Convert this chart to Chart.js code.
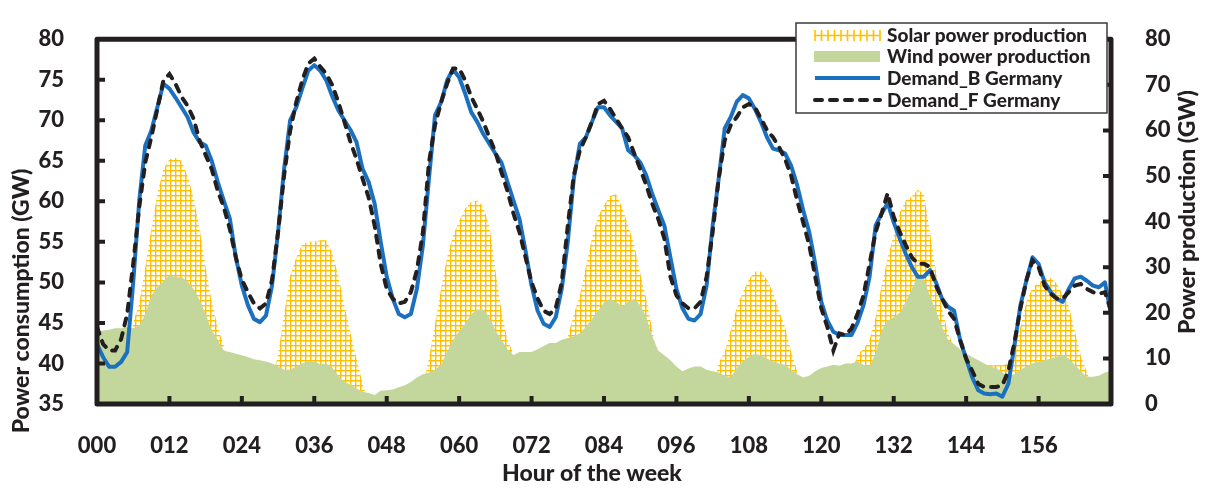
<!DOCTYPE html>
<html>
<head>
<meta charset="utf-8">
<title>Power consumption and production, Germany</title>
<script src="https://cdn.jsdelivr.net/npm/chart.js@4.4.1/dist/chart.umd.min.js"></script>
<style>
  html, body { margin: 0; padding: 0; background: #ffffff; }
  canvas { display: block; }
</style>
</head>
<body>
<canvas id="chart" width="1207" height="489"></canvas>
<script>
// ---- data -------------------------------------------------------------
// hour of the week, 0 .. 168
const hours = Array.from({ length: 169 }, (_, i) => i);

const hourTicks = ['000', '012', '024', '036', '048', '060', '072', '084', '096', '108', '120', '132', '144', '156'];
const consumptionTicks = [35, 40, 45, 50, 55, 60, 65, 70, 75, 80];
const productionTicks = [0, 10, 20, 30, 40, 50, 60, 70, 80];

// Solar power production (GW, right axis)
const solarGW = [
  0, 0, 0, 0, 0, 4, 18, 22, 30, 38.4, 46, 51.5, 53.7, 54, 53.3, 50.1, 45.3, 38.4, 30, 22.4,
  16.9, 12.7, 4, 0, 0, 0, 0, 0, 0, 6, 10.7, 19.7, 28, 32.1, 34.9, 35.6, 35.6, 35.9, 35.9, 33,
  28, 21.5, 15.5, 10, 4.5, 0, 0, 0, 0, 0, 0, 0, 0, 0, 4, 10, 17.6, 25.2, 32.1, 37,
  40.1, 42.9, 44.3, 44.6, 43.2, 39.1, 29.4, 20.4, 14, 11, 4, 0, 0, 0, 0, 0, 0, 9, 14.8, 19.7,
  23.8, 30.1, 36.3, 41.1, 43.6, 45.6, 46, 43.2, 39.1, 34.9, 28.7, 23.1, 16.2, 9, 3, 0, 0, 0, 0, 0,
  0, 0, 3, 9, 11.4, 16.2, 21.1, 24.5, 27.3, 29, 29, 27.3, 24.5, 20.4, 16.9, 11.4, 7.2, 2, 0, 0,
  0, 0, 0, 0, 0, 6, 11, 12, 14, 19, 26, 32, 37, 42, 44.6, 45.5, 47, 46, 37.7, 29,
  21, 15.5, 12.5, 10.5, 9.5, 9, 8.8, 8.5, 8.5, 8.5, 8.5, 9, 11.4, 17, 22.5, 25.5, 26.6, 27.5, 27.6, 26.5,
  24, 21.5, 16, 10.5, 7, 3, 0, 0, 0
];

// Wind power production (GW, right axis)
const windGW = [
  15.9, 16.1, 16.3, 16.6, 16.6, 16.9, 16.6, 17.2, 19.7, 23.8, 25.6, 26.9, 28.3, 27.8, 27.8, 26.9, 25.2, 22.8, 19.7, 16.2,
  14.1, 11.7, 11.4, 11.0, 10.7, 10.3, 9.8, 9.6, 9.3, 8.9, 8.2, 7.5, 7.5, 8.2, 8.9, 9.4, 9.3, 8.7, 8.9, 7.9,
  6.2, 4.8, 4.2, 3.4, 2.7, 2.4, 2.0, 2.9, 3.0, 3.2, 3.7, 4.1, 4.8, 5.8, 6.5, 6.9, 7.5, 8.6, 11.4, 14.1,
  15.9, 17.6, 19.7, 20.7, 20.7, 19.0, 16.2, 14.1, 12.0, 10.7, 11.4, 11.4, 11.4, 12.0, 12.7, 13.4, 13.4, 14.1, 14.5, 14.8,
  15.5, 16.9, 18.6, 20.4, 22.3, 23.1, 22.4, 21.4, 22.4, 23.0, 21.7, 19.0, 14.8, 11.7, 10.7, 9.6, 8.2, 7.2, 7.8, 8.2,
  8.2, 7.5, 7.2, 6.9, 6.2, 5.8, 7.9, 9.3, 10.3, 11.0, 10.7, 10.0, 9.3, 8.9, 8.6, 7.5, 6.5, 5.8, 6.2, 7.2,
  7.9, 8.2, 8.6, 8.4, 8.9, 8.9, 9.3, 8.6, 8.2, 11.0, 16.2, 18.3, 19.0, 20.0, 22.4, 25.2, 28.0, 27.3, 23.8, 20.4,
  16.9, 14.1, 13.1, 12.0, 11.0, 10.3, 9.6, 8.9, 8.2, 7.9, 6.9, 6.2, 6.5, 7.5, 8.2, 8.9, 9.3, 9.6, 10.0, 10.3,
  10.8, 10.0, 8.6, 7.2, 6.0, 6.0, 6.2, 6.9, 7.2
];

// Demand_B Germany (GW, left axis)
const demandB = [
  42.4, 40.8, 39.6, 39.6, 40.2, 41.4, 50.0, 60.1, 66.9, 68.7, 71.6, 74.5, 73.9, 72.8, 71.6, 70.4, 68.5, 67.3, 66.9, 65.0,
  62.4, 60.1, 57.9, 53.1, 49.6, 47.2, 45.5, 45.1, 45.9, 49.6, 56.2, 64.0, 70.0, 71.6, 73.9, 76.1, 76.8, 76.1, 74.9, 72.9,
  71.2, 70.0, 68.8, 67.3, 64.0, 62.4, 59.7, 55.0, 50.7, 48.0, 46.1, 45.7, 46.1, 49.2, 54.6, 62.8, 70.6, 72.2, 74.9, 76.3,
  75.3, 73.3, 71.0, 69.8, 68.3, 67.1, 65.9, 64.8, 62.4, 60.1, 57.8, 53.9, 49.6, 46.5, 44.9, 44.5, 45.7, 49.2, 55.0, 62.8,
  67.1, 67.9, 69.8, 71.6, 71.6, 70.6, 69.8, 69.0, 66.3, 65.7, 64.8, 63.2, 60.9, 58.9, 57.0, 53.1, 49.2, 46.8, 45.5, 45.3,
  46.1, 49.6, 57.0, 62.8, 69.0, 70.4, 72.3, 73.1, 72.7, 71.4, 69.8, 67.9, 66.5, 66.3, 65.9, 64.4, 62.0, 58.9, 56.2, 52.3,
  47.6, 45.3, 43.9, 43.5, 43.5, 43.5, 45.0, 47.2, 50.7, 57.0, 58.5, 59.8, 57.4, 55.4, 53.5, 51.9, 50.7, 50.7, 51.5, 50.0,
  48.0, 47.0, 46.5, 42.9, 40.6, 38.3, 36.7, 36.3, 36.2, 36.3, 35.9, 37.5, 42.2, 47.2, 50.3, 53.1, 52.3, 50.0, 48.8, 48.0,
  47.6, 49.2, 50.5, 50.7, 50.2, 49.6, 49.4, 50.0, 46.1
];

// Demand_F Germany (GW, left axis)
const demandF = [
  44.5, 42.4, 41.6, 41.6, 43.0, 46.1, 52.3, 59.3, 64.8, 67.9, 71.4, 74.9, 75.7, 74.5, 72.9, 71.8, 70.2, 67.5, 65.7, 64.0,
  61.3, 59.3, 56.6, 53.1, 50.3, 48.8, 47.4, 46.8, 47.4, 50.3, 56.2, 63.2, 68.7, 72.2, 74.9, 77.0, 77.6, 76.6, 75.7, 74.3,
  72.2, 69.8, 67.3, 65.2, 62.8, 60.5, 57.0, 52.3, 49.2, 48.0, 47.4, 47.6, 48.8, 51.5, 56.2, 64.8, 69.4, 72.2, 74.5, 76.4,
  76.4, 74.9, 72.9, 71.4, 69.8, 67.9, 66.1, 63.6, 61.3, 58.5, 56.2, 53.1, 50.0, 48.0, 46.5, 46.1, 46.8, 50.0, 57.0, 63.2,
  66.3, 67.9, 69.8, 72.0, 72.4, 71.4, 70.2, 69.0, 67.9, 65.9, 64.0, 62.0, 59.7, 57.8, 55.4, 50.7, 48.4, 47.4, 46.8, 46.8,
  47.6, 50.7, 56.2, 62.8, 67.5, 69.4, 70.4, 71.6, 72.0, 71.6, 70.2, 68.8, 67.9, 66.7, 65.2, 63.2, 60.1, 57.4, 54.6, 50.7,
  46.8, 44.5, 41.6, 43.7, 43.5, 44.3, 46.1, 48.4, 52.3, 56.2, 58.5, 61.0, 58.1, 56.2, 54.6, 53.1, 52.3, 52.3, 51.9, 49.6,
  48.0, 46.5, 45.5, 42.9, 40.6, 39.1, 37.5, 37.1, 37.1, 37.1, 37.3, 39.1, 42.6, 46.8, 50.3, 52.7, 51.9, 49.6, 48.6, 48.0,
  48.0, 48.8, 49.6, 49.8, 49.2, 48.8, 48.6, 48.8, 46.5
];

// ---- styling ----------------------------------------------------------
const FONT = 'Lato, "Open Sans", "DejaVu Sans", sans-serif';
const WEIGHT = '900';
const TEXT = '#231f20';
const AXIS = '#231f20';
const SOLAR_ORANGE = '#ffc000';
const WIND_GREEN = '#c3d69b';
const BLUE = '#1b70bf';

// large-grid hatch used for the solar area
function gridPattern() {
  const c = document.createElement('canvas');
  c.width = 10; c.height = 10;
  const g = c.getContext('2d');
  g.fillStyle = '#ffffff';
  g.fillRect(0, 0, 10, 10);
  g.fillStyle = SOLAR_ORANGE;
  g.fillRect(0, 0, 10, 2.8);
  g.fillRect(0, 0, 2.8, 10);
  const ctx = document.getElementById('chart').getContext('2d');
  const p = ctx.createPattern(c, 'repeat');
  p.setTransform(new DOMMatrix().scale(0.5));
  return p;
}
const solarFill = gridPattern();

// frame round the plot area with inward tick marks
const framePlugin = {
  id: 'frame',
  afterDatasetsDraw(chart) {
    const { ctx, chartArea: a, scales } = chart;
    ctx.save();
    ctx.strokeStyle = AXIS;
    ctx.lineWidth = 4;
    ctx.lineCap = 'butt';
    ctx.beginPath();
    scales.y.ticks.forEach(t => {
      const p = scales.y.getPixelForValue(t.value);
      if (p > a.top + 2 && p < a.bottom - 2) { ctx.moveTo(a.left, p); ctx.lineTo(a.left + 8, p); }
    });
    scales.y2.ticks.forEach(t => {
      const p = scales.y2.getPixelForValue(t.value);
      if (p > a.top + 2 && p < a.bottom - 2) { ctx.moveTo(a.right, p); ctx.lineTo(a.right - 8, p); }
    });
    scales.x.ticks.forEach(t => {
      const p = scales.x.getPixelForValue(t.value);
      if (p > a.left + 2 && p < a.right - 2) { ctx.moveTo(p, a.bottom); ctx.lineTo(p, a.bottom - 8); }
    });
    ctx.stroke();
    ctx.lineWidth = 5;
    ctx.lineJoin = 'round';
    ctx.strokeRect(a.left, a.top, a.right - a.left, a.bottom - a.top);
    ctx.restore();
  }
};

// axis titles
const titlePlugin = {
  id: 'axisTitles',
  afterDraw(chart) {
    const ctx = chart.ctx;
    const font = WEIGHT + ' 23px ' + FONT;
    ctx.save();
    ctx.fillStyle = TEXT;
    ctx.font = font;
    ctx.textAlign = 'center';
    ctx.textBaseline = 'middle';
    ctx.fillText('Hour of the week', 592, 474);
    ctx.translate(22, 301);
    ctx.rotate(-Math.PI / 2);
    ctx.fillText('Power consumption (GW)', 0, 0);
    ctx.restore();
    ctx.save();
    ctx.fillStyle = TEXT;
    ctx.font = font;
    ctx.textAlign = 'center';
    ctx.textBaseline = 'middle';
    ctx.translate(1188, 212);
    ctx.rotate(-Math.PI / 2);
    ctx.fillText('Power production (GW)', 0, 0);
    ctx.restore();
  }
};

// boxed legend in the upper right corner
const legendPlugin = {
  id: 'boxLegend',
  afterDraw(chart) {
    const ctx = chart.ctx;
    const ds = chart.data.datasets;
    const box = { x: 796, y: 23, w: 311, h: 90 };
    const rows = [35.5, 56.5, 78, 100];
    const sx0 = 814, sx1 = 880, tx = 887;
    ctx.save();
    ctx.fillStyle = '#ffffff';
    ctx.fillRect(box.x, box.y, box.w, box.h);
    ctx.strokeStyle = '#3b3b3b';
    ctx.lineWidth = 1.5;
    ctx.strokeRect(box.x, box.y, box.w, box.h);

    ds.forEach((d, i) => {
      const yc = rows[i];
      ctx.save();
      if (d.legendKind === 'hatch') {
        ctx.strokeStyle = SOLAR_ORANGE;
        ctx.lineWidth = 1.6;
        ctx.beginPath();
        ctx.moveTo(sx0, yc); ctx.lineTo(sx1, yc);
        for (let x = sx0 + 1; x <= sx1; x += 6.5) { ctx.moveTo(x, yc - 5.5); ctx.lineTo(x, yc + 5.5); }
        ctx.stroke();
      } else if (d.legendKind === 'area') {
        ctx.fillStyle = d.backgroundColor;
        ctx.fillRect(sx0, yc - 5.5, sx1 - sx0, 11);
      } else {
        ctx.strokeStyle = d.borderColor;
        ctx.lineWidth = d.borderWidth;
        ctx.lineCap = d.borderCapStyle || 'butt';
        ctx.setLineDash(d.borderDash || []);
        ctx.beginPath();
        ctx.moveTo(sx0 + 1, yc); ctx.lineTo(sx1, yc);
        ctx.stroke();
      }
      ctx.restore();
      ctx.fillStyle = TEXT;
      ctx.font = WEIGHT + ' 19px ' + FONT;
      ctx.textAlign = 'left';
      ctx.textBaseline = 'middle';
      ctx.fillText(d.label, tx, yc + 0.5);
    });
    ctx.restore();
  }
};

const tickFont = { family: FONT, weight: WEIGHT, size: 22 };

new Chart(document.getElementById('chart'), {
  type: 'line',
  data: {
    labels: hours,
    datasets: [
      {
        label: 'Solar power production',
        legendKind: 'hatch',
        data: solarGW,
        yAxisID: 'y2',
        fill: 'origin',
        backgroundColor: solarFill,
        borderWidth: 0,
        pointRadius: 0,
        tension: 0,
        order: 4
      },
      {
        label: 'Wind power production',
        legendKind: 'area',
        data: windGW,
        yAxisID: 'y2',
        fill: 'origin',
        backgroundColor: WIND_GREEN,
        borderWidth: 0,
        pointRadius: 0,
        tension: 0,
        order: 3
      },
      {
        label: 'Demand_B Germany',
        data: demandB,
        yAxisID: 'y',
        fill: false,
        borderColor: BLUE,
        borderWidth: 4,
        borderJoinStyle: 'round',
        pointRadius: 0,
        tension: 0,
        order: 2
      },
      {
        label: 'Demand_F Germany',
        data: demandF,
        yAxisID: 'y',
        fill: false,
        borderColor: '#231f20',
        borderWidth: 4,
        borderDash: [7, 8],
        borderCapStyle: 'round',
        pointRadius: 0,
        tension: 0,
        order: 1
      }
    ]
  },
  options: {
    responsive: false,
    animation: false,
    devicePixelRatio: 1,
    layout: { padding: { top: 19, left: 0, right: 0, bottom: 0 } },
    plugins: { legend: { display: false }, tooltip: { enabled: false } },
    scales: {
      x: {
        type: 'linear',
        min: 0,
        max: 168,
        afterBuildTicks: s => { s.ticks = hourTicks.map(t => ({ value: Number(t) })); },
        afterFit: s => { s.height = 85; },
        grid: { display: false },
        border: { display: false },
        ticks: {
          autoSkip: false,
          maxRotation: 0,
          padding: 21,
          color: TEXT,
          font: tickFont,
          callback: v => hourTicks.find(t => Number(t) === v) ?? ''
        }
      },
      y: {
        position: 'left',
        min: 35,
        max: 80,
        afterBuildTicks: s => { s.ticks = consumptionTicks.map(v => ({ value: v })); },
        afterFit: s => { s.width = 97; },
        grid: { display: false },
        border: { display: false },
        ticks: { padding: 25, color: TEXT, font: tickFont }
      },
      y2: {
        position: 'right',
        min: 0,
        max: 80,
        afterBuildTicks: s => { s.ticks = productionTicks.map(v => ({ value: v })); },
        afterFit: s => { s.width = 96; },
        grid: { display: false },
        border: { display: false },
        ticks: { padding: 26, color: TEXT, font: tickFont }
      }
    }
  },
  plugins: [framePlugin, titlePlugin, legendPlugin]
});
</script>
</body>
</html>
